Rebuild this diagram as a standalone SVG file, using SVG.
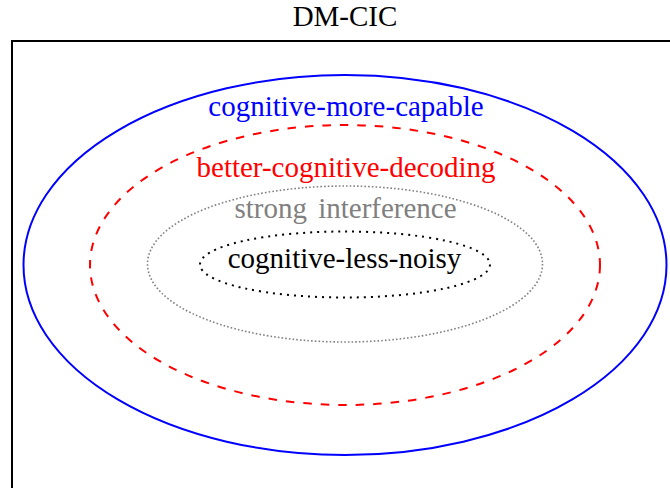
<svg xmlns="http://www.w3.org/2000/svg" width="670" height="488" viewBox="0 0 670 488">
<style>
text { font-size: 29px; text-anchor: middle; }
.ell { fill: none; }
</style>
<rect x="0" y="0" width="670" height="488" fill="#ffffff"/>
<g font-family="'Liberation Serif', 'Times New Roman', Times, 'DejaVu Serif', serif">
<text id="title" x="345" y="26" fill="#000000">DM-CIC</text>
</g>
<rect id="frame" x="12" y="41" width="700" height="500" fill="none" stroke="#000000" stroke-width="2"/>
<g id="cognitive-more-capable" font-family="'Liberation Serif', 'Times New Roman', Times, 'DejaVu Serif', serif">
  <ellipse class="ell" cx="345" cy="265" rx="321.5" ry="190" stroke="#0000ff" stroke-width="2"/>
  <text x="346" y="116" fill="#0000ff">cognitive-more-capable</text>
</g>
<g id="better-cognitive-decoding" font-family="'Liberation Serif', 'Times New Roman', Times, 'DejaVu Serif', serif">
  <ellipse class="ell" cx="345" cy="265" rx="255" ry="140" stroke="#ff0000" stroke-width="2" stroke-dasharray="8.5 9"/>
  <text x="346" y="177" fill="#ff0000">better-cognitive-decoding</text>
</g>
<g id="strong-interference" font-family="'Liberation Serif', 'Times New Roman', Times, 'DejaVu Serif', serif">
  <ellipse class="ell" cx="345" cy="264" rx="197.5" ry="78" stroke="#808080" stroke-width="1.6" stroke-dasharray="1.6 2.1"/>
  <text x="345.5" y="218" fill="#808080" word-spacing="4">strong interference</text>
</g>
<g id="cognitive-less-noisy" font-family="'Liberation Serif', 'Times New Roman', Times, 'DejaVu Serif', serif">
  <ellipse class="ell" cx="345" cy="264.5" rx="145" ry="33" stroke="#000000" stroke-width="2" stroke-dasharray="2 5"/>
  <text x="344.5" y="268" fill="#000000">cognitive-less-noisy</text>
</g>
<g id="connectors"/>
</svg>
